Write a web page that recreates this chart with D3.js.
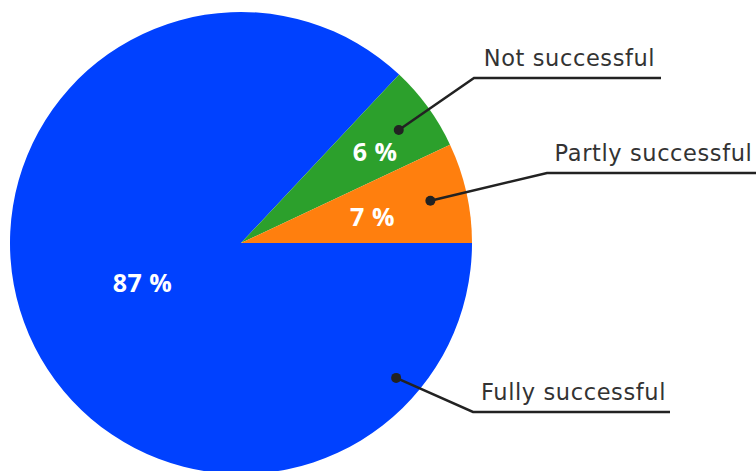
<!DOCTYPE html>
<html>
<head>
<script src="https://d3js.org/d3.v7.min.js"></script>
<style>
  body { margin:0; background:#fff; }
  .cat-label { font-family: 'DejaVu Sans', sans-serif; font-size: 22.5px; letter-spacing: 0.6px; fill: #333; }
  .pct-label { font-family: 'Open Sans', sans-serif; font-size: 25px; font-weight: 700; letter-spacing: 0.5px; fill: #fff; }
  .leader { fill: none; stroke: #222; stroke-width: 2.5; }
</style>
</head>
<body>
<script>
var categories = ["Fully successful", "Not successful", "Partly successful"];
var shares = [87, 6, 7];
var colours = ["#0041ff", "#2ca02c", "#ff7f0e"];

var width = 756, height = 471;
var cx = 241, cy = 243, radius = 231;

// where the dot for each slice sits (degrees clockwise from 12 o'clock, fraction of radius)
var dotSpots = [[131, 0.89], [54.4, 0.84], [77.4, 0.84]];
// elbow of the leader line and end of the underline
var elbows = [[473, 412, 670], [474, 78, 661], [547, 173, 756]];
// percentage label spots
var pctSpots = [[248, 0.46], [56, 0.70], [79, 0.58]];

var svg = d3.select("body").append("svg")
    .attr("width", width)
    .attr("height", height);

var g = svg.append("g")
    .attr("transform", "translate(" + cx + "," + cy + ")");

var data = categories.map((c, i) => ({name: c, value: shares[i], colour: colours[i], dot: dotSpots[i], elbow: elbows[i], pct: pctSpots[i]}));

var pie = d3.pie()
    .sort(null)
    .value(d => d.value)
    .startAngle(Math.PI / 2)
    .endAngle(Math.PI / 2 + 2 * Math.PI);

var arc = d3.arc().innerRadius(0).outerRadius(radius);

var arcs = pie(data);

g.selectAll("path.slice")
  .data(arcs)
  .enter().append("path")
    .attr("class", "slice")
    .attr("d", arc)
    .style("fill", d => d.data.colour);

function polar(deg, frac) {
  var a = deg * Math.PI / 180;
  return [Math.sin(a) * radius * frac, -Math.cos(a) * radius * frac];
}

g.selectAll("text.pct-label")
  .data(arcs)
  .enter().append("text")
    .attr("class", "pct-label")
    .attr("text-anchor", "middle")
    .attr("dy", "0.35em")
    .attr("transform", d => "translate(" + polar(d.data.pct[0], d.data.pct[1]) + ")")
    .text(d => d.data.value + " %");

// leader lines, drawn in page coordinates
var leaders = svg.append("g");
arcs.forEach(d => {
  var p = polar(d.data.dot[0], d.data.dot[1]);
  var px = cx + p[0], py = cy + p[1];
  var e = d.data.elbow;
  leaders.append("path")
    .attr("class", "leader")
    .attr("d", d3.line()([[px, py], [e[0], e[1]], [e[2], e[1]]]));
  leaders.append("circle")
    .attr("cx", px)
    .attr("cy", py)
    .attr("r", 5)
    .style("fill", "#222");
  leaders.append("text")
    .attr("class", "cat-label")
    .attr("text-anchor", "middle")
    .attr("x", (e[0] + e[2]) / 2 + 2)
    .attr("y", e[1] - 12)
    .text(d.data.name);
});
</script>
</body>
</html>
